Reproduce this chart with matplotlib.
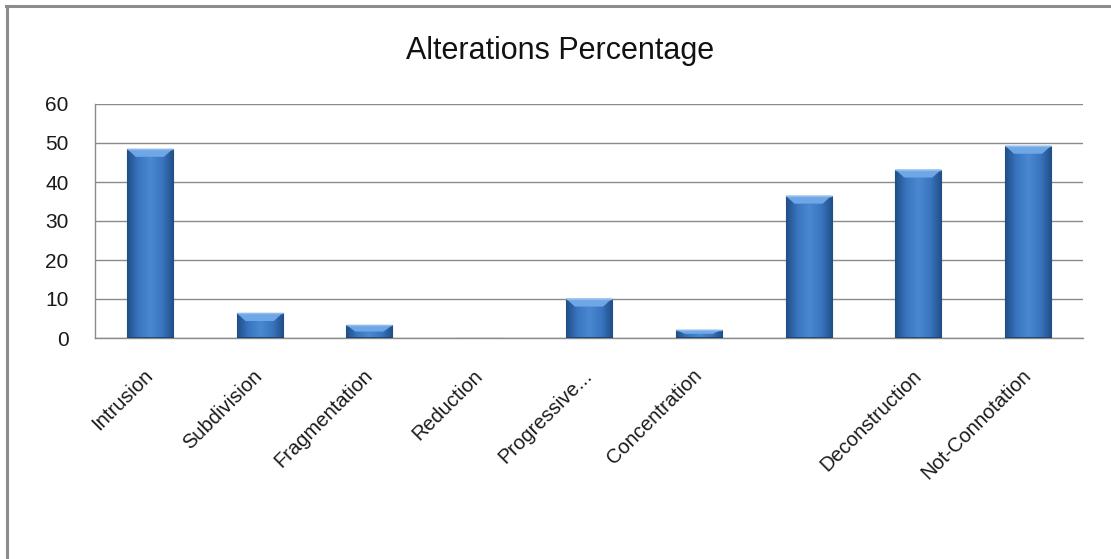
import numpy as np
import matplotlib
matplotlib.use("Agg")
import matplotlib.pyplot as plt
from matplotlib.colors import LinearSegmentedColormap
from matplotlib.patches import Polygon
from matplotlib.lines import Line2D

plt.rcParams['font.family'] = ['Liberation Sans', 'DejaVu Sans']

categories = ["Intrusion", "Subdivision", "Fragmentation", "Reduction",
              "Progressive...", "Concentration", "", "Deconstruction",
              "Not-Connotation"]
values = [48.5, 6.4, 3.3, 0.0, 10.1, 2.1, 36.5, 43.2, 49.3]
yticks = [0, 10, 20, 30, 40, 50, 60]
title = "Alterations Percentage"

fig = plt.figure(figsize=(11.11, 5.59), dpi=100)
fig.patch.set_facecolor("white")
ax = fig.add_axes([95 / 1111, 1 - 338 / 559, (1083 - 95) / 1111, (338 - 104) / 559])

x = np.arange(len(categories))
width = 0.42
ax.set_xlim(-0.5, len(categories) - 0.5)
ax.set_ylim(0, 60)

# horizontal shading across each column: dark edges, lighter middle
shade = LinearSegmentedColormap.from_list(
    "col", ["#1f4e86", "#3a76c0", "#4a88d2", "#3a76c0", "#1f4e86"])
grad = np.linspace(0, 1, 256).reshape(1, -1)

# pixel-to-data conversions for the bevel sizes
px_x = (len(categories)) / (1083 - 95)
px_y = 60 / (338 - 104)

bars = ax.bar(x, values, width=width, color="#3a76c0", edgecolor="#2a5b98",
              linewidth=0.8, zorder=3)
for xi, v, b in zip(x, values, bars):
    if v <= 0:
        continue
    x0, x1 = xi - width / 2, xi + width / 2
    im = ax.imshow(grad, cmap=shade, aspect="auto", extent=(x0, x1, 0, v),
                   zorder=3.5, interpolation="bicubic")
    im.set_clip_path(b)
    bh = min(8 * px_y, v / 2)
    bw = min(9 * px_x, width / 2)
    top = Polygon([(x0, v), (x1, v), (x1 - bw, v - bh), (x0 + bw, v - bh)],
                  closed=True, facecolor="#6ea6e6", edgecolor="none", zorder=4)
    ax.add_patch(top)
    ax.add_patch(Polygon([(x0, v), (x1, v)], closed=False, edgecolor="#8fbcef",
                         linewidth=1.0, zorder=4.2))
    ax.plot([x0, x1], [0, 0], color="#1b4373", lw=2.0, zorder=4.3,
            solid_capstyle="butt")

ax.set_yticks(yticks)
ax.set_yticklabels([str(t) for t in yticks], fontsize=15, color="#1a1a1a")
ax.yaxis.grid(True, color="#8a8a8a", linewidth=1.0, zorder=0)
ax.set_axisbelow(True)
ax.tick_params(axis="y", length=0, pad=19)

ax.set_xticks(x)
ax.set_xticklabels(categories, fontsize=14.5, color="#1a1a1a", rotation=45,
                   ha="right", va="center", rotation_mode="anchor")
ax.tick_params(axis="x", length=0, pad=25)

for side in ("top", "right"):
    ax.spines[side].set_visible(False)
for side in ("left", "bottom"):
    ax.spines[side].set_color("#8a8a8a")
    ax.spines[side].set_linewidth(1.0)

fig.text(560 / 1111, 1 - 51 / 559, title, fontsize=22, ha="center",
         va="center", color="#111111")

# outer frame visible along the left and top edges
fig.add_artist(Line2D([6.5 / 1111, 6.5 / 1111], [0, 1 - 6 / 559],
                      transform=fig.transFigure, color="#8c8c8c", lw=2.2))
fig.add_artist(Line2D([5.5 / 1111, 1], [1 - 6 / 559, 1 - 6 / 559],
                      transform=fig.transFigure, color="#8c8c8c", lw=2.2))

fig.savefig("out.png", dpi=100, facecolor="white")
